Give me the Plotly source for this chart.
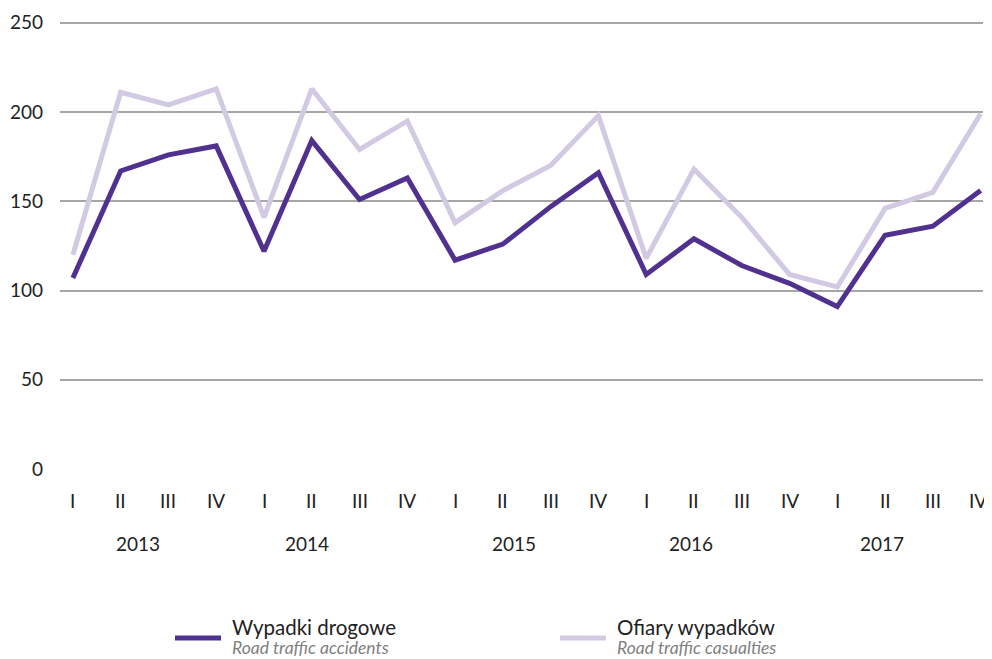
import plotly.graph_objects as go

quarters = ["I", "II", "III", "IV"] * 5
years = ["2013", "2014", "2015", "2016", "2017"]
accidents = [107, 167, 176, 181, 122, 184, 151, 163, 117, 126, 147, 166,
             109, 129, 114, 104, 91, 131, 136, 156]
casualties = [120, 211, 204, 213, 141, 213, 179, 195, 138, 156, 170, 198,
              118, 168, 141, 109, 102, 146, 155, 199]

name_acc = "Wypadki drogowe"
name_acc_en = "Road traffic accidents"
name_cas = "Ofiary wypadków"
name_cas_en = "Road traffic casualties"

COL_ACC = "#51318f"
COL_CAS = "#d2cae3"

x = list(range(len(quarters)))
year_pos = [1.36, 4.9, 9.23, 12.94, 16.93]

FONT = "Lato"
OFF = 8  # default page body margin
W, H = 992 - OFF, 659 - OFF
L, R, T, B = 60 - OFF, 9, 21 - OFF, 190
PW, PH = W - L - R, H - T - B


def px(p):
    return (p - OFF - L) / PW


def py(p):
    return (H - B - (p - OFF)) / PH


fig = go.Figure()
fig.add_trace(go.Scatter(x=x, y=accidents, mode="lines",
                         line=dict(color=COL_ACC, width=5), name=name_acc))
fig.add_trace(go.Scatter(x=x, y=casualties, mode="lines",
                         line=dict(color=COL_CAS, width=5), name=name_cas))

# quarter labels (as annotations so the last one stays inside the page)
for i, (xi, q) in enumerate(zip(x, quarters)):
    last = i == len(x) - 1
    fig.add_annotation(x=xi, xref="x", y=py(500), yref="paper", text=q,
                       showarrow=False, yanchor="middle",
                       xanchor="right" if last else "center",
                       xshift=8 if last else 0,
                       font=dict(family=FONT, size=19, color="#222"))

for yr, xp in zip(years, year_pos):
    fig.add_annotation(x=xp, xref="x", y=py(543), yref="paper", text=yr,
                       showarrow=False, yanchor="middle", xanchor="center",
                       font=dict(family=FONT, size=19, color="#222"))

# manual legend
legend_items = [
    (175, COL_ACC, name_acc, name_acc_en),
    (560, COL_CAS, name_cas, name_cas_en),
]
for x0, col, main, sub in legend_items:
    fig.add_shape(type="line", xref="paper", yref="paper",
                  x0=px(x0), x1=px(x0 + 46), y0=py(638), y1=py(638),
                  line=dict(color=col, width=5))
    fig.add_annotation(x=px(x0 + 55), xref="paper", y=py(627), yref="paper",
                       text=main, showarrow=False, xanchor="left",
                       yanchor="middle",
                       font=dict(family=FONT, size=20.5, color="#222"))
    fig.add_annotation(x=px(x0 + 55), xref="paper", y=py(647), yref="paper",
                       text=f"<i>{sub}</i>", showarrow=False, xanchor="left",
                       yanchor="middle",
                       font=dict(family=FONT, size=17.5, color="#808080"))

fig.update_layout(
    width=W, height=H,
    margin=dict(l=L, r=R, t=T, b=B),
    plot_bgcolor="white", paper_bgcolor="white",
    font=dict(family=FONT, size=19, color="#222"),
    xaxis=dict(tickmode="array", tickvals=x, showticklabels=False,
               range=[-0.27, 19.05], showgrid=False, zeroline=False,
               showline=False, ticks="", automargin=False),
    yaxis=dict(range=[0, 251], tickvals=[0, 50, 100, 150, 200, 250],
               showgrid=True, gridcolor="#a6a6a6", gridwidth=1.5,
               zeroline=False, showline=False, ticks="",
               ticklabelstandoff=16, automargin=False),
    showlegend=False,
)

fig.write_html("out.html")
